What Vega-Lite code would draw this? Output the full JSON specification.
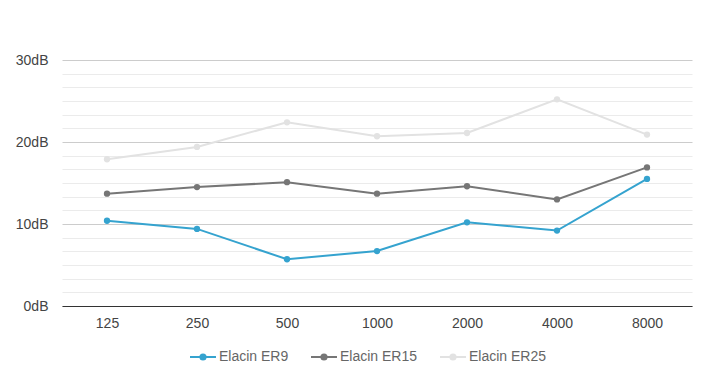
{
  "$schema": "https://vega.github.io/schema/vega-lite/v6.json",
  "autosize": {"type": "none"},
  "width": 630,
  "height": 246,
  "padding": {"left": 62, "top": 60, "right": 22, "bottom": 71},
  "background": "white",
  "config": {
    "view": {"stroke": null},
    "font": "Liberation Sans",
    "axis": {"labelFont": "Liberation Sans", "labelFontSize": 14, "labelColor": "#444", "ticks": false, "title": null}
  },
  "data": {
    "values": [
      {"freq": "125", "series": "Elacin ER9", "db": 10.4},
      {"freq": "250", "series": "Elacin ER9", "db": 9.4},
      {"freq": "500", "series": "Elacin ER9", "db": 5.7},
      {"freq": "1000", "series": "Elacin ER9", "db": 6.7},
      {"freq": "2000", "series": "Elacin ER9", "db": 10.2},
      {"freq": "4000", "series": "Elacin ER9", "db": 9.2},
      {"freq": "8000", "series": "Elacin ER9", "db": 15.5},
      {"freq": "125", "series": "Elacin ER15", "db": 13.7},
      {"freq": "250", "series": "Elacin ER15", "db": 14.5},
      {"freq": "500", "series": "Elacin ER15", "db": 15.1},
      {"freq": "1000", "series": "Elacin ER15", "db": 13.7},
      {"freq": "2000", "series": "Elacin ER15", "db": 14.6},
      {"freq": "4000", "series": "Elacin ER15", "db": 13.0},
      {"freq": "8000", "series": "Elacin ER15", "db": 16.9},
      {"freq": "125", "series": "Elacin ER25", "db": 17.9},
      {"freq": "250", "series": "Elacin ER25", "db": 19.4},
      {"freq": "500", "series": "Elacin ER25", "db": 22.4},
      {"freq": "1000", "series": "Elacin ER25", "db": 20.7},
      {"freq": "2000", "series": "Elacin ER25", "db": 21.1},
      {"freq": "4000", "series": "Elacin ER25", "db": 25.2},
      {"freq": "8000", "series": "Elacin ER25", "db": 20.9}
    ]
  },
  "encoding": {
    "x": {
      "field": "freq", "type": "ordinal",
      "sort": ["125", "250", "500", "1000", "2000", "4000", "8000"],
      "scale": {"type": "point", "padding": 0.5},
      "axis": {"labelAngle": 0, "grid": false, "domainColor": "#333", "domainWidth": 1, "labelPadding": 10}
    },
    "y": {
      "field": "db", "type": "quantitative",
      "scale": {"domain": [0, 30], "nice": false},
      "axis": {
        "values": [0, 1.6667, 3.3333, 5, 6.6667, 8.3333, 10, 11.6667, 13.3333, 15, 16.6667, 18.3333, 20, 21.6667, 23.3333, 25, 26.6667, 28.3333, 30],
        "labelExpr": "datum.value % 10 === 0 ? datum.value + 'dB' : ''",
        "domain": false,
        "labelPadding": 14,
        "gridColor": {"condition": {"test": "datum.value % 10 === 0", "value": "#cccccc"}, "value": "#ebebeb"},
        "gridWidth": 1
      }
    },
    "color": {
      "field": "series", "type": "nominal",
      "sort": ["Elacin ER9", "Elacin ER15", "Elacin ER25"],
      "scale": {"domain": ["Elacin ER9", "Elacin ER15", "Elacin ER25"], "range": ["#35a3cf", "#767676", "#e2e2e2"]},
      "legend": {
        "orient": "none", "legendX": 131, "legendY": 287, "direction": "horizontal", "title": null,
        "labelFont": "Liberation Sans", "labelFontSize": 14, "labelColor": "#666", "labelOffset": 6,
        "symbolType": "M-1.5,0H1.5M-0.3,0a0.3,0.3 0 1,0 0.6,0a0.3,0.3 0 1,0 -0.6,0",
        "symbolSize": 300, "symbolStrokeWidth": 2,
        "columnPadding": 18
      }
    }
  },
  "layer": [
    {"mark": {"type": "line", "strokeWidth": 2}},
    {"mark": {"type": "point", "filled": true, "opacity": 1, "size": 40}}
  ]
}
